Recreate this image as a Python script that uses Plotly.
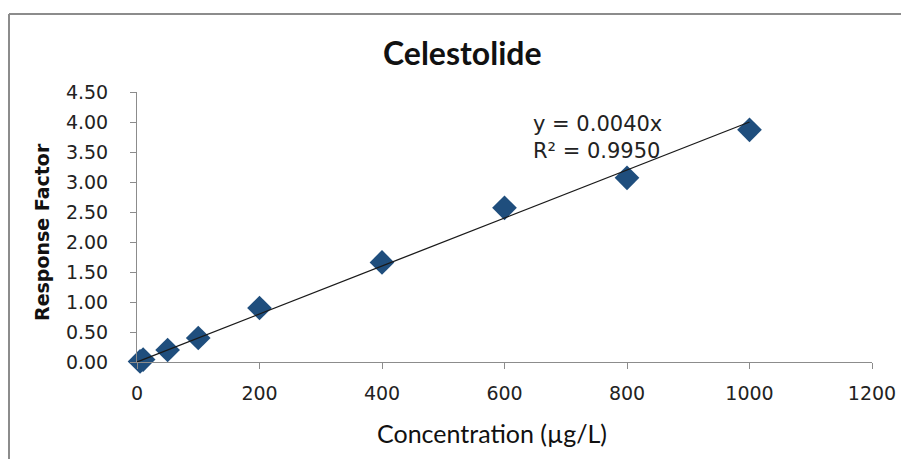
import plotly.graph_objects as go

conc = [5, 10, 50, 100, 200, 400, 600, 800, 1000]
resp = [0.01, 0.04, 0.20, 0.40, 0.90, 1.66, 2.57, 3.07, 3.87]
slope = 0.0040
r2 = 0.9950
fit_x = [0, 1000]
fit_y = [slope * v for v in fit_x]
x_ticks = [0, 200, 400, 600, 800, 1000, 1200]
y_ticks = [0, 0.5, 1.0, 1.5, 2.0, 2.5, 3.0, 3.5, 4.0, 4.5]

L, R, T, B = 137, 872, 92, 362
W, H = 901, 459

fig = go.Figure()
fig.add_trace(go.Scatter(x=conc, y=resp, mode="markers",
                         marker=dict(symbol="diamond", size=19, color="#1F4E7D",
                                     line=dict(width=0)),
                         cliponaxis=False, showlegend=False))
fig.add_trace(go.Scatter(x=fit_x, y=fit_y, mode="lines",
                         line=dict(color="#1a1a1a", width=1.3),
                         cliponaxis=False, showlegend=False))

def px2paper_x(px):
    return (px - L) / (R - L)

def px2paper_y(py):
    return (B - py) / (B - T)

fig.update_layout(
    width=W, height=H,
    margin=dict(l=L, r=W - R, t=T, b=H - B, pad=0),
    paper_bgcolor="white", plot_bgcolor="white",
    font=dict(family="DejaVu Sans", color="#222"),
    xaxis=dict(range=[0, 1200], tickvals=x_ticks, ticktext=[str(v) for v in x_ticks],
               automargin=False,
               showgrid=False, zeroline=False, showline=True, linecolor="#8c8c8c",
               linewidth=1, ticks="outside", ticklen=6, tickcolor="#8c8c8c",
               tickfont=dict(size=19, color="#222"), ticklabelstandoff=8),
    yaxis=dict(range=[0, 4.5], tickvals=y_ticks, ticktext=[f"{v:.2f}" for v in y_ticks],
               automargin=False,
               showgrid=False, zeroline=False, showline=True, linecolor="#8c8c8c",
               linewidth=1, ticks="outside", ticklen=6, tickcolor="#8c8c8c",
               tickfont=dict(size=19, color="#222"), ticklabelstandoff=18),
    shapes=[
        dict(type="line", xref="paper", yref="paper",
             x0=px2paper_x(9), x1=px2paper_x(910), y0=px2paper_y(14), y1=px2paper_y(14),
             line=dict(color="#8c8c8c", width=2)),
        dict(type="line", xref="paper", yref="paper",
             x0=px2paper_x(9), x1=px2paper_x(9), y0=px2paper_y(14), y1=px2paper_y(470),
             line=dict(color="#8c8c8c", width=2)),
    ],
    annotations=[
        dict(text="<b>Celestolide</b>", xref="paper", yref="paper",
             x=px2paper_x(462), y=px2paper_y(52), showarrow=False,
             xanchor="center", yanchor="middle",
             font=dict(family="Lato", size=32, color="#111")),
        dict(text="<b>Response Factor</b>", xref="paper", yref="paper",
             x=px2paper_x(42), y=px2paper_y(232), showarrow=False, textangle=-90,
             xanchor="center", yanchor="middle",
             font=dict(family="DejaVu Sans", size=19, color="#111")),
        dict(text="Concentration (µg/L)", xref="paper", yref="paper",
             x=px2paper_x(492), y=px2paper_y(433), showarrow=False,
             xanchor="center", yanchor="middle",
             font=dict(family="Lato", size=25, color="#111")),
        dict(text=f"y = {slope:.4f}x<br>R² = {r2:.4f}", xref="paper", yref="paper",
             x=px2paper_x(531), y=px2paper_y(137), showarrow=False, align="left",
             xanchor="left", yanchor="middle",
             font=dict(family="DejaVu Sans", size=21, color="#222")),
    ],
)

fig.write_html("out.html")
